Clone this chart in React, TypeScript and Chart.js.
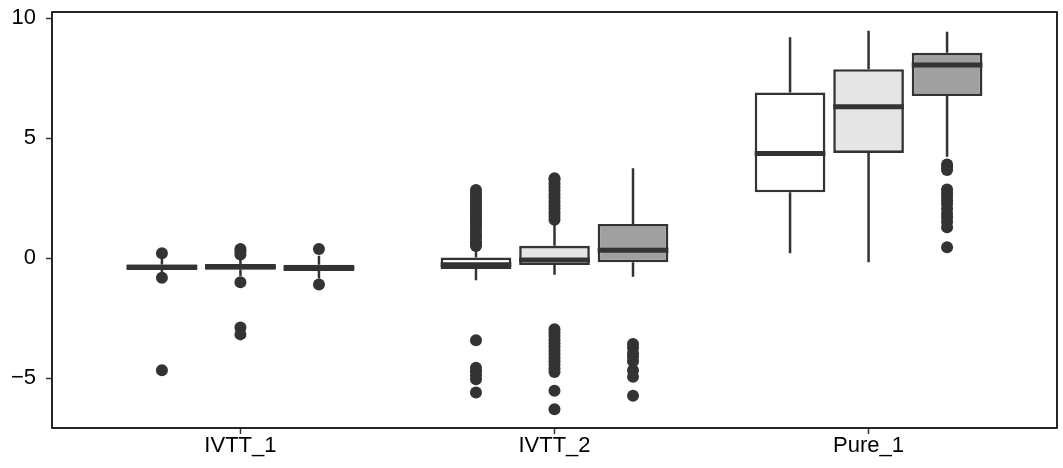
import React, { useEffect, useRef } from 'react';
import { Chart, registerables } from 'chart.js';

Chart.register(...registerables);

const groups = ['IVTT_1', 'IVTT_2', 'Pure_1'];
const seriesNames = ['Series 1', 'Series 2', 'Series 3'];
const seriesFills = ['#FFFFFF', '#E5E5E5', '#A0A0A0'];
const yTicks = [-5, 0, 5, 10];

// Box statistics: one row per series, one entry per group
const lowerWhisker = [
  [-0.6, -0.92, 0.2],
  [-0.75, -0.7, -0.17],
  [-0.85, -0.78, 4.22],
];
const q1 = [
  [-0.5, -0.46, 2.74],
  [-0.48, -0.29, 4.38],
  [-0.54, -0.18, 6.75],
];
const median = [
  [-0.38, -0.28, 4.36],
  [-0.37, -0.08, 6.3],
  [-0.41, 0.33, 8.04],
];
const q3 = [
  [-0.27, 0.02, 6.9],
  [-0.25, 0.51, 7.87],
  [-0.28, 1.42, 8.55],
];
const upperWhisker = [
  [-0.02, 0.45, 9.2],
  [0.0, 1.45, 9.47],
  [0.1, 3.74, 9.43],
];

// Outliers: one list per group, per series
const outliersSeries1 = [
  [0.2, -0.82, -4.67],
  [2.83, 2.7, 2.55, 2.42, 2.3, 2.2, 2.07, 1.95, 1.85, 1.72, 1.6, 1.5, 1.38, 1.25, 1.1, 0.96, 0.85, 0.68, 0.6, 0.5,
    -3.42, -4.57, -4.72, -4.88, -5.05, -5.6],
  [],
];
const outliersSeries2 = [
  [0.38, 0.28, 0.15, -1.01, -2.89, -3.18],
  [3.32, 3.25, 3.1, 2.95, 2.8, 2.65, 2.5, 2.35, 2.2, 2.05, 1.9, 1.75, 1.6,
    -2.97, -3.1, -3.25, -3.4, -3.55, -3.7, -3.85, -4.0, -4.15, -4.3, -4.45, -4.6, -4.75, -5.53, -6.3],
  [],
];
const outliersSeries3 = [
  [0.38, -1.1],
  [-3.58, -3.75, -3.97, -4.11, -4.3, -4.67, -4.95, -5.74],
  [3.9, 3.8, 3.67, 2.86, 2.7, 2.55, 2.4, 2.25, 2.05, 1.85, 1.7, 1.5, 1.28, 0.45],
];
const outliers = [outliersSeries1, outliersSeries2, outliersSeries3];

const DODGE = 0.25;
const LINE = '#333333';
const FONT = { family: "'Liberation Sans', Arial, Helvetica, sans-serif", size: 22, lineHeight: 1 };

const boxPlugin = {
  id: 'boxParts',
  beforeDatasetsDraw(chart: any) {
    const { ctx, scales } = chart;
    const y = scales.y;
    ctx.save();
    ctx.strokeStyle = LINE;
    ctx.lineWidth = 2.5;
    ctx.lineCap = 'butt';
    seriesNames.forEach((_, i) => {
      const meta = chart.getDatasetMeta(i);
      groups.forEach((__, j) => {
        const el = meta.data[j];
        if (!el) return;
        const x = el.x;
        ctx.beginPath();
        ctx.moveTo(x, y.getPixelForValue(q3[i][j]));
        ctx.lineTo(x, y.getPixelForValue(upperWhisker[i][j]));
        ctx.moveTo(x, y.getPixelForValue(q1[i][j]));
        ctx.lineTo(x, y.getPixelForValue(lowerWhisker[i][j]));
        ctx.stroke();
      });
    });
    ctx.restore();
  },
  afterDatasetsDraw(chart: any) {
    const { ctx, scales } = chart;
    const y = scales.y;
    ctx.save();
    ctx.strokeStyle = LINE;
    ctx.lineWidth = 5;
    ctx.lineCap = 'butt';
    seriesNames.forEach((_, i) => {
      const meta = chart.getDatasetMeta(i);
      groups.forEach((__, j) => {
        const el = meta.data[j];
        if (!el) return;
        const yy = y.getPixelForValue(median[i][j]);
        ctx.beginPath();
        ctx.moveTo(el.x - el.width / 2, yy);
        ctx.lineTo(el.x + el.width / 2, yy);
        ctx.stroke();
      });
    });
    ctx.restore();
  },
  afterDraw(chart: any) {
    const { ctx, chartArea } = chart;
    ctx.save();
    ctx.strokeStyle = '#000000';
    ctx.lineWidth = 1.7;
    ctx.strokeRect(chartArea.left, chartArea.top, chartArea.right - chartArea.left, chartArea.bottom - chartArea.top);
    ctx.restore();
  },
};

export default function App() {
  const canvasRef = useRef<HTMLCanvasElement | null>(null);

  useEffect(() => {
    if (!canvasRef.current) return;
    const boxDatasets = seriesNames.map((name, i) => ({
      type: 'bar' as const,
      label: name,
      data: groups.map((_, j) => ({ x: j + 1 + (i - 1) * DODGE, y: [q1[i][j], q3[i][j]] })),
      backgroundColor: seriesFills[i],
      borderColor: LINE,
      borderWidth: 2.6,
      borderSkipped: false,
      grouped: false,
      categoryPercentage: 1,
      barPercentage: 0.9,
      order: 1,
    }));
    const outlierDatasets = seriesNames.map((name, i) => ({
      type: 'scatter' as const,
      label: name + ' outliers',
      data: groups.flatMap((_, j) => outliers[i][j].map((v) => ({ x: j + 1 + (i - 1) * DODGE, y: v }))),
      backgroundColor: LINE,
      borderWidth: 0,
      pointRadius: 6,
      pointHoverRadius: 6,
      showLine: false,
      order: 0,
    }));

    const chart = new Chart(canvasRef.current, {
      type: 'bar',
      data: { datasets: [...boxDatasets, ...outlierDatasets] as any },
      options: {
        animation: false,
        responsive: false,
        events: [],
        layout: { padding: { left: 0, right: 6, top: 12, bottom: 0 } },
        plugins: { legend: { display: false }, tooltip: { enabled: false } },
        scales: {
          x: {
            type: 'linear',
            min: 0.4,
            max: 3.6,
            offset: false,
            grid: { display: true, offset: false, drawOnChartArea: false, drawTicks: true, tickLength: 6, tickColor: LINE, tickWidth: 1.5 },
            border: { display: false },
            ticks: {
              color: '#000000',
              font: FONT,
              padding: 1,
              maxRotation: 0,
              autoSkip: false,
              callback: (v: any) => groups[Math.round(Number(v)) - 1] ?? '',
            },
            afterBuildTicks: (scale: any) => {
              scale.ticks = groups.map((_, j) => ({ value: j + 1 }));
            },
            afterFit: (scale: any) => {
              scale.height = 40;
              scale.paddingLeft = 0;
              scale.paddingRight = 0;
            },
          },
          y: {
            type: 'linear',
            min: -7.08,
            max: 10.25,
            beginAtZero: false,
            grid: { display: true, drawOnChartArea: false, drawTicks: true, tickLength: 6, tickColor: LINE, tickWidth: 1.5 },
            border: { display: false },
            ticks: {
              color: '#000000',
              font: FONT,
              padding: 10,
              autoSkip: false,
              callback: (v: any) => (Number(v) < 0 ? '\u2212' + Math.abs(Number(v)) : String(v)),
            },
            afterBuildTicks: (scale: any) => {
              scale.ticks = yTicks.map((v) => ({ value: v }));
            },
            afterFit: (scale: any) => {
              scale.width = 52;
              scale.paddingTop = 0;
              scale.paddingBottom = 0;
            },
          },
        },
      } as any,
      plugins: [boxPlugin],
    });
    return () => chart.destroy();
  }, []);

  return (
    <div style={{ position: 'fixed', left: 0, top: 0, width: 1063, height: 468, background: '#ffffff' }}>
      <canvas ref={canvasRef} width={1063} height={468} style={{ display: 'block' }} />
    </div>
  );
}
